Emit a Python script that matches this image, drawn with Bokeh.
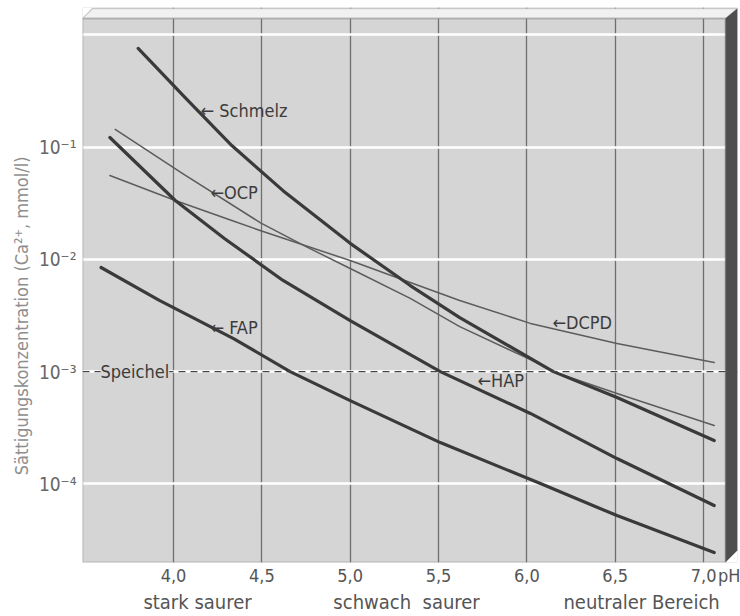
from bokeh.plotting import figure
from bokeh.models import (FixedTicker, CustomJSTickFormatter, LinearAxis, Span, Label,
                          PolyAnnotation, Range1d)
from bokeh.embed import file_html
from bokeh.resources import INLINE

# ---------------- data ----------------
# pH values and saturation concentration of Ca2+ (mmol/l)
ph_schmelz = [3.80, 4.07, 4.33, 4.62, 5.00, 5.34, 5.62, 6.15, 6.51, 7.06]
ca_schmelz = [7.6e-1, 2.72e-1, 1.035e-1, 4.1e-2, 1.39e-2, 5.85e-3, 3.03e-3, 1.0e-3, 5.87e-4, 2.43e-4]

ph_hap = [3.64, 4.01, 4.29, 4.62, 5.00, 5.51, 6.02, 6.51, 7.06]
ca_hap = [1.22e-1, 3.35e-2, 1.53e-2, 6.49e-3, 2.85e-3, 1.0e-3, 4.24e-4, 1.68e-4, 6.41e-5]

ph_ocp = [3.67, 4.05, 4.49, 4.75, 5.00, 5.34, 5.62, 6.02, 6.15, 6.51, 7.06]
ca_ocp = [1.44e-1, 5.83e-2, 2.13e-2, 1.30e-2, 8.30e-3, 4.49e-3, 2.52e-3, 1.28e-3, 1.0e-3, 6.38e-4, 3.31e-4]

ph_dcpd = [3.64, 4.01, 4.33, 4.49, 5.00, 5.34, 5.62, 6.02, 6.51, 7.06]
ca_dcpd = [5.6e-2, 3.35e-2, 2.22e-2, 1.81e-2, 9.77e-3, 6.22e-3, 4.31e-3, 2.69e-3, 1.78e-3, 1.205e-3]

ph_fap = [3.59, 3.92, 4.34, 4.66, 5.00, 5.51, 6.08, 6.51, 7.06]
ca_fap = [8.47e-3, 4.31e-3, 1.97e-3, 1.0e-3, 5.52e-4, 2.33e-4, 1.0e-4, 5.21e-5, 2.44e-5]

speichel_ca = 1.0e-3

x_ticks = [4.0, 4.5, 5.0, 5.5, 6.0, 6.5, 7.0]
x_tick_labels = ["4,0", "4,5", "5,0", "5,5", "6,0", "6,5", "7,0"]
x_unit = "pH"
y_ticks = [1e-1, 1e-2, 1e-3, 1e-4]
y_tick_labels = ["10\u207b\u00b9", "10\u207b\u00b2", "10\u207b\u00b3", "10\u207b\u2074"]
decades = [1e0, 1e-1, 1e-2, 1e-3, 1e-4]
regions = ["stark saurer", "schwach\u00a0\u00a0saurer", "neutraler Bereich"]
region_ph = [4.136, 5.319, 6.649]
y_title = "S\u00e4ttigungskonzentration (Ca\u00b2\u207a,  mmol/l)"

curve_names = ["\u2190 Schmelz", "\u2190OCP", "\u2190 FAP", "\u2190DCPD", "\u2190HAP"]

# ---------------- layout / style ----------------
FONT = "'Liberation Sans Narrow', 'DejaVu Sans Condensed', 'Roboto Condensed', 'Liberation Sans', sans-serif"
GREY = "#d5d5d5"

X0, X1 = 3.485, 7.192          # frame
XG = 7.124                     # right end of grey area
Y0, Y1 = 1.99e-5, 1.758
YG = 1.403                     # top of grey area
YT = 1.72

p = figure(width=740, height=616, x_range=Range1d(X0, X1), y_range=Range1d(Y0, Y1),
           y_axis_type="log", output_backend="svg", toolbar_location=None, tools="",
           min_border_left=82, min_border_right=3, min_border_top=7, min_border_bottom=54)
p.background_fill_color = GREY
p.border_fill_color = "white"
p.outline_line_color = None

# grids
p.xgrid.ticker = FixedTicker(ticks=x_ticks)
p.xgrid.grid_line_color = "#6f6f6f"
p.xgrid.grid_line_width = 1.3
p.ygrid.ticker = FixedTicker(ticks=decades)
p.ygrid.grid_line_color = "white"
p.ygrid.grid_line_width = 2.5
p.ygrid.minor_grid_line_color = None

def plain(ax):
    ax.axis_line_color = None
    ax.major_tick_line_color = None
    ax.minor_tick_line_color = None
    ax.major_tick_out = 0
    ax.minor_tick_out = 0
    ax.major_tick_in = 0
    ax.minor_tick_in = 0

# x axis (tick values + unit)
xa = p.xaxis[0]
xa.ticker = FixedTicker(ticks=x_ticks + [7.158])
xa.formatter = CustomJSTickFormatter(args=dict(labels=x_tick_labels + [x_unit]),
                                     code="return labels[index]")
xa.axis_label = None
plain(xa)
xa.major_label_standoff = 2
xa.major_label_text_font = FONT
xa.major_label_text_font_size = "18px"
xa.major_label_text_color = "#555555"

# second x axis: pH regions
ra = LinearAxis(ticker=FixedTicker(ticks=region_ph),
                formatter=CustomJSTickFormatter(args=dict(labels=regions), code="return labels[index]"))
ra.axis_label = None
plain(ra)
ra.major_label_standoff = 1
ra.major_label_text_font = FONT
ra.major_label_text_font_size = "20px"
ra.major_label_text_color = "#555555"
p.add_layout(ra, "below")

# y axis
ya = p.yaxis[0]
ya.ticker = FixedTicker(ticks=y_ticks)
ya.formatter = CustomJSTickFormatter(args=dict(labels=y_tick_labels), code="return labels[index]")
plain(ya)
ya.major_label_standoff = 6
ya.major_label_text_font = FONT
ya.major_label_text_font_size = "19px"
ya.major_label_text_color = "#666666"
ya.axis_label = y_title + "\u00a0" * 11
ya.axis_label_text_font = FONT
ya.axis_label_text_font_size = "18px"
ya.axis_label_text_font_style = "normal"
ya.axis_label_text_color = "#8e8e8e"
ya.axis_label_standoff = 4

# Speichel dashed line
p.add_layout(Span(location=speichel_ca, dimension="width", line_color="#444444",
                  line_width=1.4, line_dash="7 5"))

# curves
thick = dict(line_color="#3a3a3a", line_width=3.2, line_cap="round", line_join="round")
thin = dict(line_color="#5c5c5c", line_width=1.5, line_cap="round", line_join="round")
p.line(ph_dcpd, ca_dcpd, **thin)
p.line(ph_ocp, ca_ocp, **thin)
p.line(ph_schmelz, ca_schmelz, **thick)
p.line(ph_hap, ca_hap, **thick)
p.line(ph_fap, ca_fap, **thick)

# curve labels
label_pos = [(4.153, 0.212), (4.209, 0.0394), (4.209, 2.47e-3), (6.145, 2.74e-3), (5.72, 8.33e-4)]
for name, (lx, ly) in zip(curve_names, label_pos):
    p.add_layout(Label(x=lx, y=ly, text=name, text_baseline="middle", text_align="left",
                       text_font=FONT, text_font_size="18px", text_color="#3c3c3c"))
p.add_layout(Label(x=3.587, y=speichel_ca, text="Speichel", text_baseline="middle",
                   text_align="left", text_font=FONT, text_font_size="18px", text_color="#3c3c3c",
                   background_fill_color=GREY, background_fill_alpha=1.0))

# 3-D frame decoration
p.add_layout(PolyAnnotation(xs=[X0, 3.542, X0], ys=[Y1, Y1, YG],
                            fill_color="white", fill_alpha=1, line_color=None))
p.add_layout(PolyAnnotation(xs=[3.542, X1, XG, X0], ys=[YT, YT, YG, YG],
                            fill_color="#f1f1f1", fill_alpha=1, line_color="#8a8a8a", line_width=1.3))
p.add_layout(PolyAnnotation(xs=[XG, X1, X1, XG], ys=[YG, YT, 2.55e-5, Y0],
                            fill_color="#4e4e4e", fill_alpha=1, line_color="#4e4e4e", line_width=1))
p.add_layout(PolyAnnotation(xs=[XG, X1, X1], ys=[Y0, Y0, 2.55e-5],
                            fill_color="white", fill_alpha=1, line_color=None))
p.add_layout(PolyAnnotation(xs=[X0, XG, XG, X0], ys=[YG, YG, Y0, Y0],
                            fill_alpha=0, line_color="#707070", line_width=2))

open("out.html", "w").write(file_html(p, INLINE))
